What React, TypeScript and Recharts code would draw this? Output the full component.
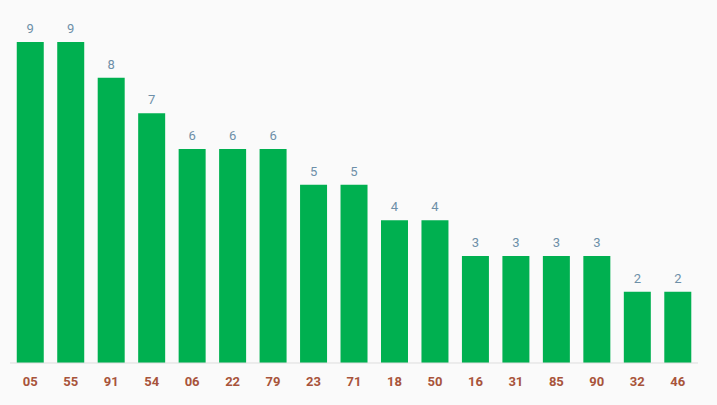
import { BarChart, Bar, XAxis, YAxis, LabelList } from 'recharts';

const numbers = ['05', '55', '91', '54', '06', '22', '79', '23', '71', '18', '50', '16', '31', '85', '90', '32', '46'];
const counts = [9, 9, 8, 7, 6, 6, 6, 5, 5, 4, 4, 3, 3, 3, 3, 2, 2];

const data = numbers.map((n, i) => ({ name: n, value: counts[i] }));

export default function App() {
  return (
    <div
      style={{
        position: 'fixed',
        top: 0,
        left: 0,
        width: 717,
        height: 405,
        background: '#fafafa',
        fontFamily: 'Roboto, sans-serif',
      }}
    >
      <BarChart
        width={717}
        height={405}
        data={data}
        margin={{ top: 42, right: 19, left: 10, bottom: 12 }}
        barCategoryGap="16.7%"
      >
        <XAxis
          dataKey="name"
          tickLine={false}
          axisLine={{ stroke: '#dddddd' }}
          height={30}
          tick={{ fill: '#a8543b', fontSize: 13, fontWeight: 700 }}
          tickMargin={8}
          interval={0}
        />
        <YAxis hide domain={[0, 9]} />
        <Bar dataKey="value" fill="#00b050" isAnimationActive={false}>
          <LabelList dataKey="value" position="top" fill="#6d8fa8" fontSize={13} offset={9} />
        </Bar>
      </BarChart>
    </div>
  );
}
